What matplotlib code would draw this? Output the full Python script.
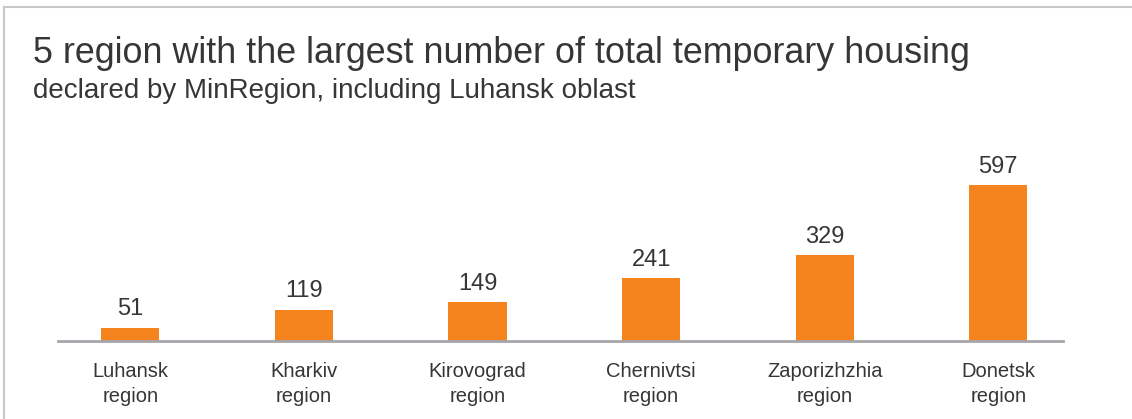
import matplotlib
matplotlib.use("Agg")
import matplotlib.pyplot as plt
from matplotlib.lines import Line2D

categories = ["Luhansk\nregion", "Kharkiv\nregion", "Kirovograd\nregion",
              "Chernivtsi\nregion", "Zaporizhzhia\nregion", "Donetsk\nregion"]
values = [51, 119, 149, 241, 329, 597]

title = "5 region with the largest number of total temporary housing"
subtitle = "declared by MinRegion, including Luhansk oblast"

orange = "#F5841F"
text_col = "#363636"

plt.rcParams["font.family"] = ["Liberation Sans", "DejaVu Sans"]

W, H = 1132, 419
fig = plt.figure(figsize=(W / 100, H / 100), dpi=100)

# axes: baseline at y=341px, top at y=160px
ax = fig.add_axes([0, (H - 341) / H, 1, (341 - 160) / H])
x = list(range(len(values)))
ax.bar(x, values, width=0.335, color=orange)
ax.set_xlim(-0.75, 5.77)
ax.set_ylim(0, 181 / 0.2613)

for xi, v in zip(x, values):
    ax.annotate(str(v), (xi, v), xytext=(0, 9), textcoords="offset points",
                ha="center", va="baseline", fontsize=17, color=text_col)

ax.set_xticks(x)
ax.set_xticklabels(categories, fontsize=14.5, color=text_col,
                   linespacing=1.4)
ax.tick_params(axis="x", length=0, pad=15)
ax.set_yticks([])
for s in ["top", "right", "left"]:
    ax.spines[s].set_visible(False)
ax.spines["bottom"].set_color("#A5A5AA")
ax.spines["bottom"].set_linewidth(2)
ax.spines["bottom"].set_bounds(-0.415, 5.375)
ax.patch.set_alpha(0)

# outer frame (top and left only visible)
fig.add_artist(Line2D([4 / W, 4 / W], [0, 1 - 7 / H], color="#C8C8C8", lw=1.5))
fig.add_artist(Line2D([4 / W, 1], [1 - 7 / H, 1 - 7 / H], color="#C8C8C8", lw=1.5))

fig.text(33 / W, 1 - 63 / H, title, fontsize=25.8, color=text_col,
         va="baseline")
fig.text(33 / W, 1 - 98 / H, subtitle, fontsize=20, color=text_col,
         va="baseline")

fig.savefig("out.png", dpi=100)
